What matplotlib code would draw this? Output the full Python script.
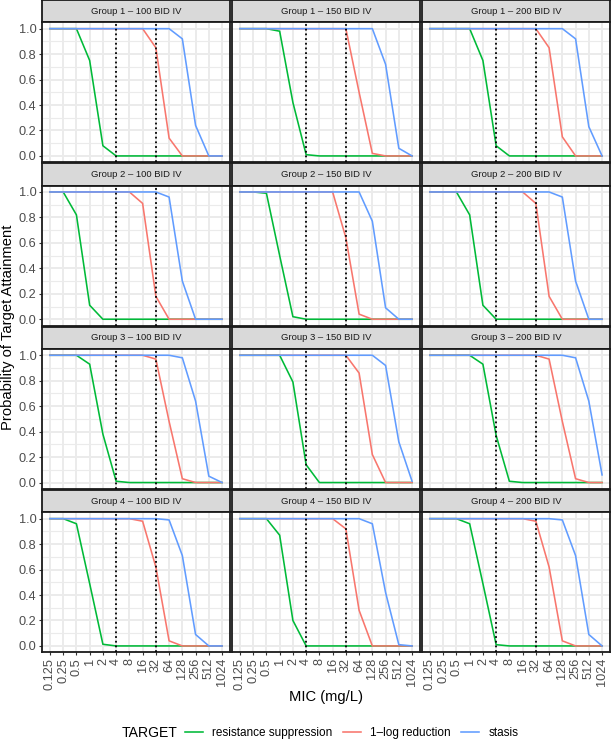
import numpy as np
import matplotlib.pyplot as plt
from matplotlib.lines import Line2D

plt.rcParams['font.family'] = ['Liberation Sans', 'DejaVu Sans']

# ── data ──────────────────────────────────────────────────────────────────────
mic_labels = ['0.125', '0.25', '0.5', '1', '2', '4', '8', '16', '32', '64',
              '128', '256', '512', '1024']
groups = ['Group 1', 'Group 2', 'Group 3', 'Group 4']
doses = ['100 BID IV', '150 BID IV', '200 BID IV']
targets = ['resistance suppression', '1\u2013log reduction', 'stasis']
cutoffs = ['4', '32']

g1_100_rs = [1, 1, 1, 0.75, 0.08, 0, 0, 0, 0, 0, 0, 0, 0, 0]
g1_100_lr = [1, 1, 1, 1, 1, 1, 1, 1, 0.85, 0.14, 0, 0, 0, 0]
g1_100_st = [1, 1, 1, 1, 1, 1, 1, 1, 1, 1, 0.92, 0.24, 0, 0]
g1_150_rs = [1, 1, 1, 0.98, 0.42, 0.01, 0, 0, 0, 0, 0, 0, 0, 0]
g1_150_lr = [1, 1, 1, 1, 1, 1, 1, 1, 1, 0.5, 0.02, 0, 0, 0]
g1_150_st = [1, 1, 1, 1, 1, 1, 1, 1, 1, 1, 1, 0.72, 0.06, 0]
g1_200_rs = [1, 1, 1, 1, 0.75, 0.08, 0, 0, 0, 0, 0, 0, 0, 0]
g1_200_lr = [1, 1, 1, 1, 1, 1, 1, 1, 1, 0.85, 0.15, 0, 0, 0]
g1_200_st = [1, 1, 1, 1, 1, 1, 1, 1, 1, 1, 1, 0.92, 0.23, 0]

g2_100_rs = [1, 1, 0.82, 0.11, 0, 0, 0, 0, 0, 0, 0, 0, 0, 0]
g2_100_lr = [1, 1, 1, 1, 1, 1, 1, 0.91, 0.18, 0, 0, 0, 0, 0]
g2_100_st = [1, 1, 1, 1, 1, 1, 1, 1, 1, 0.96, 0.30, 0, 0, 0]
g2_150_rs = [1, 1, 0.99, 0.5, 0.02, 0, 0, 0, 0, 0, 0, 0, 0, 0]
g2_150_lr = [1, 1, 1, 1, 1, 1, 1, 1, 0.64, 0.04, 0, 0, 0, 0]
g2_150_st = [1, 1, 1, 1, 1, 1, 1, 1, 1, 1, 0.77, 0.09, 0, 0]
g2_200_rs = [1, 1, 1, 0.82, 0.11, 0, 0, 0, 0, 0, 0, 0, 0, 0]
g2_200_lr = [1, 1, 1, 1, 1, 1, 1, 1, 0.91, 0.18, 0, 0, 0, 0]
g2_200_st = [1, 1, 1, 1, 1, 1, 1, 1, 1, 1, 0.96, 0.30, 0, 0]

g3_100_rs = [1, 1, 1, 0.93, 0.38, 0.01, 0, 0, 0, 0, 0, 0, 0, 0]
g3_100_lr = [1, 1, 1, 1, 1, 1, 1, 1, 0.97, 0.48, 0.03, 0, 0, 0]
g3_100_st = [1, 1, 1, 1, 1, 1, 1, 1, 1, 1, 0.98, 0.64, 0.05, 0]
g3_150_rs = [1, 1, 1, 1, 0.79, 0.14, 0, 0, 0, 0, 0, 0, 0, 0]
g3_150_lr = [1, 1, 1, 1, 1, 1, 1, 1, 1, 0.86, 0.22, 0, 0, 0]
g3_150_st = [1, 1, 1, 1, 1, 1, 1, 1, 1, 1, 1, 0.92, 0.32, 0.01]
g3_200_rs = [1, 1, 1, 1, 0.93, 0.37, 0.01, 0, 0, 0, 0, 0, 0, 0]
g3_200_lr = [1, 1, 1, 1, 1, 1, 1, 1, 1, 0.97, 0.48, 0.03, 0, 0]
g3_200_st = [1, 1, 1, 1, 1, 1, 1, 1, 1, 1, 1, 0.98, 0.64, 0.06]

g4_100_rs = [1, 1, 0.96, 0.49, 0.013, 0, 0, 0, 0, 0, 0, 0, 0, 0]
g4_100_lr = [1, 1, 1, 1, 1, 1, 1, 0.98, 0.62, 0.04, 0, 0, 0, 0]
g4_100_st = [1, 1, 1, 1, 1, 1, 1, 1, 1, 0.99, 0.71, 0.09, 0, 0]
g4_150_rs = [1, 1, 1, 0.87, 0.20, 0, 0, 0, 0, 0, 0, 0, 0, 0]
g4_150_lr = [1, 1, 1, 1, 1, 1, 1, 1, 0.92, 0.28, 0, 0, 0, 0]
g4_150_st = [1, 1, 1, 1, 1, 1, 1, 1, 1, 1, 0.96, 0.42, 0.01, 0]
g4_200_rs = [1, 1, 1, 0.96, 0.49, 0.01, 0, 0, 0, 0, 0, 0, 0, 0]
g4_200_lr = [1, 1, 1, 1, 1, 1, 1, 1, 0.98, 0.62, 0.04, 0, 0, 0]
g4_200_st = [1, 1, 1, 1, 1, 1, 1, 1, 1, 1, 0.99, 0.71, 0.09, 0]

panels = [
    [(g1_100_rs, g1_100_lr, g1_100_st), (g1_150_rs, g1_150_lr, g1_150_st), (g1_200_rs, g1_200_lr, g1_200_st)],
    [(g2_100_rs, g2_100_lr, g2_100_st), (g2_150_rs, g2_150_lr, g2_150_st), (g2_200_rs, g2_200_lr, g2_200_st)],
    [(g3_100_rs, g3_100_lr, g3_100_st), (g3_150_rs, g3_150_lr, g3_150_st), (g3_200_rs, g3_200_lr, g3_200_st)],
    [(g4_100_rs, g4_100_lr, g4_100_st), (g4_150_rs, g4_150_lr, g4_150_st), (g4_200_rs, g4_200_lr, g4_200_st)],
]

# ── style ─────────────────────────────────────────────────────────────────────
colors = ['#00BA38', '#F8766D', '#619CFF']
W, H = 612, 744
col_x = [42, 232, 422]          # panel left edges (px)
col_w = 188
row_top = [0, 163.3, 326.6, 490]  # strip top edges (px)
strip_h, panel_h = 22.3, 140

def box(x, y, w, h):
    return [x / W, 1 - (y + h) / H, w / W, h / H]

fig = plt.figure(figsize=(W / 100, H / 100), dpi=100)
xs = np.arange(len(mic_labels))
cut_idx = [mic_labels.index(c) for c in cutoffs]

for r, grp in enumerate(groups):
    for c, dose in enumerate(doses):
        # strip
        sa = fig.add_axes(box(col_x[c], row_top[r], col_w, strip_h))
        sa.set_facecolor('#D9D9D9')
        sa.set_xticks([]); sa.set_yticks([])
        for s in sa.spines.values():
            s.set_color('#1A1A1A'); s.set_linewidth(1.3)
        sa.text(0.5, 0.5, f'{grp} \u2013 {dose}', ha='center', va='center',
                fontsize=6.8, color='#1A1A1A', transform=sa.transAxes)

        # panel
        ax = fig.add_axes(box(col_x[c], row_top[r] + strip_h, col_w, panel_h))
        ax.set_xlim(-0.6, len(mic_labels) - 0.4)
        ax.set_ylim(-0.05, 1.05)
        ax.set_xticks(xs)
        ax.set_yticks([0, 0.2, 0.4, 0.6, 0.8, 1.0])
        ax.set_yticks(np.arange(0.1, 1.0, 0.2), minor=True)
        ax.grid(True, which='major', color='#EBEBEB', lw=1.4, zorder=0)
        ax.grid(True, which='minor', axis='y', color='#EBEBEB', lw=0.8, zorder=0)
        ax.set_axisbelow(True)
        for s in ax.spines.values():
            s.set_color('#1A1A1A'); s.set_linewidth(1.3)
        ax.tick_params(which='minor', length=0)
        ax.tick_params(which='major', length=2.5, width=0.8, color='#333333',
                       labelsize=9.2, labelcolor='#4D4D4D', pad=1.5)

        for ys, col in zip(panels[r][c], colors):
            ax.plot(xs, ys, color=col, lw=1.15, zorder=3)
        for ci in cut_idx:
            ax.axvline(ci, color='black', ls=(0, (1, 1.6)), lw=1.3, zorder=4)

        if c == 0:
            ax.set_yticklabels([f'{v:.1f}' for v in [0, 0.2, 0.4, 0.6, 0.8, 1.0]])
        else:
            ax.tick_params(axis='y', length=0, labelleft=False)
        if r == len(groups) - 1:
            ax.set_xticklabels(mic_labels, rotation=90)
        else:
            ax.tick_params(axis='x', length=0, labelbottom=False)

fig.text(8 / W, 1 - 327 / H, 'Probability of Target Attainment', rotation=90,
         ha='center', va='center', fontsize=10.6, color='black')
fig.text(326 / W, 1 - 697 / H, 'MIC (mg/L)', ha='center', va='center',
         fontsize=10.6, color='black')

leg_y = 1 - 733 / H
fig.text(122 / W, leg_y, 'TARGET', ha='left', va='center', fontsize=10.1)
handles = [Line2D([], [], color=col, lw=1.15) for col in colors]
fig.legend(handles, targets, loc='center left', bbox_to_anchor=(185 / W, leg_y),
           ncol=3, frameon=False, fontsize=8.5, handlelength=1.5,
           handletextpad=0.8, columnspacing=0.9, borderaxespad=0, borderpad=0)

fig.savefig('out.png', dpi=100)
